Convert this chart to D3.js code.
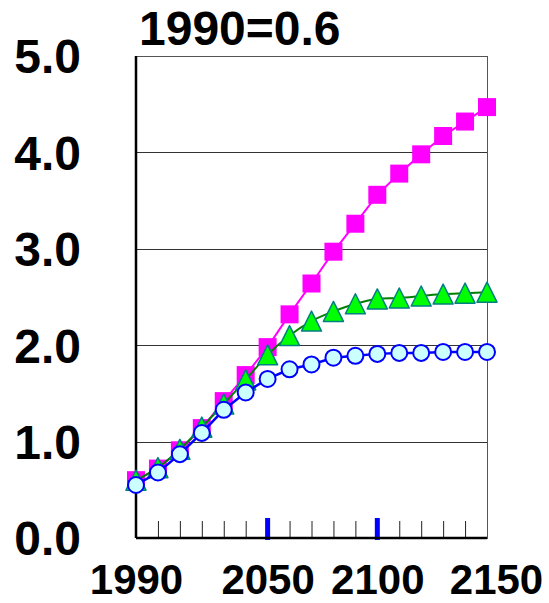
<!DOCTYPE html>
<html>
<head>
<meta charset="utf-8">
<script src="https://cdn.jsdelivr.net/npm/d3@7"></script>
<style>
  body { margin: 0; background: #fff; }
  svg { display: block; font-family: "Liberation Sans", Arial, sans-serif; }
  .big { font-size: 48px; font-weight: bold; fill: #000; }
  .xlab { font-size: 42px; font-weight: bold; fill: #000; }
</style>
</head>
<body>
<div class="chart"></div>
<script>
var years = [1990, 2000, 2010, 2020, 2030, 2040, 2050, 2060, 2070, 2080, 2090, 2100, 2110, 2120, 2130, 2140, 2150];
var highSeries = [0.60, 0.72, 0.91, 1.14, 1.42, 1.69, 1.98, 2.32, 2.64, 2.97, 3.26, 3.56, 3.78, 3.98, 4.17, 4.32, 4.47];
var midSeries = [0.60, 0.73, 0.92, 1.15, 1.39, 1.64, 1.90, 2.10, 2.25, 2.35, 2.43, 2.48, 2.49, 2.51, 2.53, 2.54, 2.55];
var lowSeries = [0.55, 0.68, 0.87, 1.09, 1.33, 1.51, 1.65, 1.75, 1.80, 1.87, 1.89, 1.91, 1.92, 1.92, 1.93, 1.93, 1.93];
var yTicks = [0, 1, 2, 3, 4, 5];
var xLabels = [1990, 2050, 2100, 2150];
var markYears = [2050, 2100];
var titleText = "1990=0.6";

var svgWidth = 549;
var svgHeight = 603;
var margin = { top: 56, right: 62, bottom: 65, left: 136 };
var width = svgWidth - margin.left - margin.right;
var height = svgHeight - margin.top - margin.bottom;

var svg = d3.select(".chart").append("svg")
  .attr("width", svgWidth)
  .attr("height", svgHeight);

var chartGroup = svg.append("g")
  .attr("transform", `translate(${margin.left}, ${margin.top})`);

var xScale = d3.scaleLinear().domain([1990, 2150]).range([0, width]);
var yScale = d3.scaleLinear().domain([0, 5]).range([height, 0]);

// horizontal grid
var grid = chartGroup.append("g")
  .call(d3.axisLeft(yScale).tickValues(yTicks).tickSize(-width).tickFormat(""));
grid.select(".domain").remove();
grid.selectAll("line").attr("stroke", "#333").attr("stroke-width", 1).attr("shape-rendering", "crispEdges");

// frame
chartGroup.append("rect")
  .attr("width", width).attr("height", height)
  .attr("fill", "none").attr("stroke", "#555").attr("stroke-width", 1)
  .attr("shape-rendering", "crispEdges");

// minor ticks along the bottom, pointing up
var minor = chartGroup.append("g")
  .attr("transform", `translate(0, ${height})`)
  .call(d3.axisBottom(xScale).tickValues(years.slice(1, -1)).tickSize(-17).tickFormat(""));
minor.select(".domain").remove();
minor.selectAll("line").attr("stroke", "#222").attr("stroke-width", 1);

chartGroup.selectAll(".markTick")
  .data(markYears)
  .enter()
  .append("line")
  .attr("x1", d => xScale(d)).attr("x2", d => xScale(d))
  .attr("y1", height + 2).attr("y2", height - 20)
  .attr("stroke", "#0000ff").attr("stroke-width", 5);

// left and bottom axis lines (heavier)
chartGroup.append("line")
  .attr("x1", 0).attr("x2", 0).attr("y1", 0).attr("y2", height)
  .attr("stroke", "#000").attr("stroke-width", 2.5);
chartGroup.append("line")
  .attr("x1", 0).attr("x2", width).attr("y1", height).attr("y2", height)
  .attr("stroke", "#000").attr("stroke-width", 2.5);

// y labels
var yAxis = chartGroup.append("g")
  .call(d3.axisLeft(yScale).tickValues(yTicks).tickSize(0).tickPadding(55).tickFormat(d3.format(".1f")));
yAxis.select(".domain").remove();
yAxis.selectAll("text").attr("class", "big").attr("dy", "0.35em").attr("font-size", null).attr("font-family", null);

// x labels
var xAxis = chartGroup.append("g")
  .attr("transform", `translate(0, ${height})`)
  .call(d3.axisBottom(xScale).tickValues(xLabels).tickSize(0).tickPadding(0).tickFormat(d3.format("d")));
xAxis.select(".domain").remove();
xAxis.selectAll("text").attr("class", "xlab").attr("dy", null).attr("y", 56)
  .attr("font-size", null).attr("font-family", null)
  .attr("dx", d => d === 2150 ? 9 : 0);

// title
svg.append("text")
  .attr("class", "big")
  .attr("x", 139)
  .attr("y", 45)
  .text(titleText);

function seriesData(values) {
  return years.map((yr, i) => ({ year: yr, value: values[i] }));
}

var straightLine = d3.line().x(d => xScale(d.year)).y(d => yScale(d.value));
var smoothLine = d3.line().x(d => xScale(d.year)).y(d => yScale(d.value)).curve(d3.curveMonotoneX);

// magenta squares
chartGroup.append("path")
  .datum(seriesData(highSeries))
  .attr("d", straightLine)
  .attr("fill", "none").attr("stroke", "#ff00ff").attr("stroke-width", 2);
chartGroup.selectAll(".sq")
  .data(seriesData(highSeries))
  .enter()
  .append("rect")
  .attr("x", d => xScale(d.year) - 9)
  .attr("y", d => yScale(d.value) - 9)
  .attr("width", 18).attr("height", 18)
  .attr("fill", "#ff00ff");

// green triangles
chartGroup.append("path")
  .datum(seriesData(midSeries))
  .attr("d", smoothLine)
  .attr("fill", "none").attr("stroke", "#008000").attr("stroke-width", 2);
chartGroup.selectAll(".tri")
  .data(seriesData(midSeries))
  .enter()
  .append("path")
  .attr("transform", d => `translate(${xScale(d.year)}, ${yScale(d.value)})`)
  .attr("d", "M0,-10L10,10L-10,10Z")
  .attr("fill", "#00ff00").attr("stroke", "#008080").attr("stroke-width", 1.5)
  .attr("stroke-linejoin", "round");

// blue circles
chartGroup.append("path")
  .datum(seriesData(lowSeries))
  .attr("d", straightLine)
  .attr("fill", "none").attr("stroke", "#0000ff").attr("stroke-width", 2.5);
chartGroup.selectAll(".dot")
  .data(seriesData(lowSeries))
  .enter()
  .append("circle")
  .attr("cx", d => xScale(d.year))
  .attr("cy", d => yScale(d.value))
  .attr("r", 8)
  .attr("fill", "#ccffff").attr("stroke", "#0000ff").attr("stroke-width", 2);
</script>
</body>
</html>
